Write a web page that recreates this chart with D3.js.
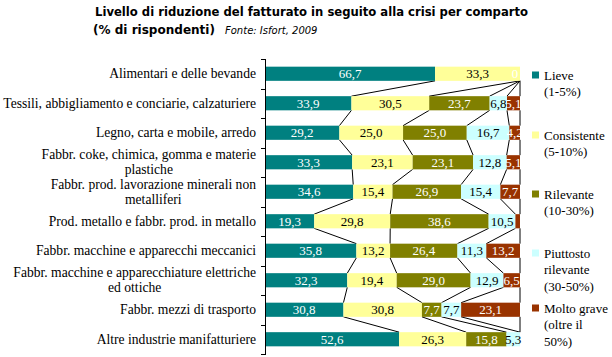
<!DOCTYPE html>
<html><head><meta charset="utf-8">
<script src="https://cdn.jsdelivr.net/npm/d3@7"></script>
<style>
html,body{margin:0;padding:0;background:#fff;}
svg{display:block;}
.serif{font-family:"Liberation Serif","DejaVu Serif",serif;}
.sans{font-family:"DejaVu Sans",Verdana,sans-serif;}
</style></head>
<body>
<svg id="chart" width="612" height="357"></svg>
<script>
const categories = [
  ["Alimentari e delle bevande"],
  ["Tessili, abbigliamento e conciarie, calzaturiere"],
  ["Legno, carta e mobile, arredo"],
  ["Fabbr. coke, chimica, gomma e materie", "plastiche"],
  ["Fabbr. prod. lavorazione minerali non", "metalliferi"],
  ["Prod. metallo e fabbr. prod. in metallo"],
  ["Fabbr. macchine e apparecchi meccanici"],
  ["Fabbr. macchine e apparecchiature elettriche", "ed ottiche"],
  ["Fabbr. mezzi di trasporto"],
  ["Altre industrie manifatturiere"]
];
const seriesNames = [
  ["Lieve", "(1-5%)"],
  ["Consistente", "(5-10%)"],
  ["Rilevante", "(10-30%)"],
  ["Piuttosto", "rilevante", "(30-50%)"],
  ["Molto grave", "(oltre il", "50%)"]
];
const lieve       = [66.7, 33.9, 29.2, 33.3, 34.6, 19.3, 35.8, 32.3, 30.8, 52.6];
const consistente = [33.3, 30.5, 25.0, 23.1, 15.4, 29.8, 13.2, 19.4, 30.8, 26.3];
const rilevante   = [0,    23.7, 25.0, 23.1, 26.9, 38.6, 26.4, 29.0, 7.7,  15.8];
const piuttosto   = [null, 6.8,  16.7, 12.8, 15.4, 10.5, 11.3, 12.9, 7.7,  5.3];
const moltoGrave  = [null, 5.1,  4.2,  5.1,  7.7,  1.8,  13.2, 6.5,  23.1, null];
const titleLine1 = "Livello di riduzione del fatturato in seguito alla crisi per comparto";
const titleLine2 = "(% di rispondenti)";
const sourceText = "Fonte: Isfort, 2009";

const colors = ["#008080", "#FFFF99", "#808000", "#CCFFFF", "#993300"];
const labelColors = ["#fff", "#000", "#fff", "#000", "#fff"];
const seriesValues = [lieve, consistente, rilevante, piuttosto, moltoGrave];

const svg = d3.select("#chart");

// title
svg.append("text").attr("class", "sans").attr("x", 95).attr("y", 16)
  .attr("font-weight", "bold").attr("font-size", 12)
  .attr("textLength", 433).attr("lengthAdjust", "spacingAndGlyphs")
  .attr("fill", "#000").text(titleLine1);
svg.append("text").attr("class", "sans").attr("x", 93).attr("y", 34)
  .attr("font-weight", "bold").attr("font-size", 12)
  .attr("textLength", 122).attr("lengthAdjust", "spacingAndGlyphs")
  .attr("fill", "#000").text(titleLine2);
svg.append("text").attr("class", "sans").attr("x", 225).attr("y", 34)
  .attr("font-style", "italic").attr("font-size", 10).attr("fill", "#000").text(sourceText);

// scales
const x = d3.scaleLinear().domain([0, 100]).range([265, 520]);
const y = d3.scaleBand().domain(d3.range(categories.length)).range([59, 354])
  .paddingInner(0.52).paddingOuter(0.26);

// stacked (100% normalised)
const rows = categories.map((c, i) => {
  const vals = seriesValues.map(s => s[i]);
  const total = d3.sum(vals, v => v || 0);
  let cum = 0;
  return vals.map((v, s) => {
    const start = cum;
    cum += (v || 0) / total * 100;
    return {row: i, s, v, x0: start, x1: cum};
  });
});

// series lines
const lineG = svg.append("g");
for (let i = 0; i < rows.length - 1; i++) {
  for (let s = 0; s < 5; s++) {
    lineG.append("line")
      .attr("x1", x(rows[i][s].x1)).attr("y1", y(i) + y.bandwidth())
      .attr("x2", x(rows[i + 1][s].x1)).attr("y2", y(i + 1))
      .attr("stroke", "#000").attr("stroke-width", 1);
  }
}

// bars
const barG = svg.append("g");
rows.forEach(r => r.forEach(d => {
  if (d.v == null || d.v === 0) return;
  barG.append("rect")
    .attr("x", x(d.x0)).attr("y", y(d.row))
    .attr("width", x(d.x1) - x(d.x0)).attr("height", y.bandwidth())
    .attr("fill", colors[d.s]);
}));

// labels
const fmt = v => v === 0 ? "0" : d3.format(".1f")(v).replace(".", ",");
rows.forEach(r => r.forEach(d => {
  if (d.v == null) return;
  const w = x(d.x1) - x(d.x0);
  if (w > 0 && w < 8) return;
  const cx = Math.min((x(d.x0) + x(d.x1)) / 2, 515);
  barG.append("text").attr("class", "serif")
    .attr("x", cx).attr("y", y(d.row) + y.bandwidth() / 2 + 4.5)
    .attr("text-anchor", "middle").attr("font-size", 13)
    .attr("fill", labelColors[d.s]).text(fmt(d.v));
}));

// axis
const axisG = svg.append("g");
axisG.append("line").attr("x1", 265.5).attr("x2", 265.5).attr("y1", 59).attr("y2", 355)
  .attr("stroke", "#000");
d3.range(categories.length + 1).forEach(i => {
  const ty = Math.round(59 + i * y.step()) + 0.5;
  axisG.append("line").attr("x1", 261).attr("x2", 266).attr("y1", ty).attr("y2", ty)
    .attr("stroke", "#000");
});

// category labels (block right aligned, lines centred)
categories.forEach((lines, i) => {
  const cy = y(i) + y.bandwidth() / 2;
  const g = svg.append("g");
  const lh = 15;
  const ts = lines.map((t, k) => g.append("text").attr("class", "serif")
    .attr("y", cy + (k - (lines.length - 1) / 2) * lh + 4.5)
    .attr("font-size", 13.6).attr("fill", "#000")
    .attr("text-anchor", "middle").text(t));
  const w = d3.max(ts, t => t.node().getComputedTextLength());
  ts.forEach(t => t.attr("x", 256 - w / 2));
});

// legend
const legendTops = [75, 135, 194, 253, 308];
seriesNames.forEach((lines, s) => {
  const ly = legendTops[s];
  svg.append("rect").attr("x", 532).attr("y", ly - 3.5).attr("width", 7).attr("height", 7)
    .attr("fill", colors[s]);
  lines.forEach((t, k) => {
    svg.append("text").attr("class", "serif").attr("x", 544).attr("y", ly + k * 16.5 + 4.5)
      .attr("font-size", 13).attr("fill", "#000").text(t);
  });
});
</script>
</body></html>
